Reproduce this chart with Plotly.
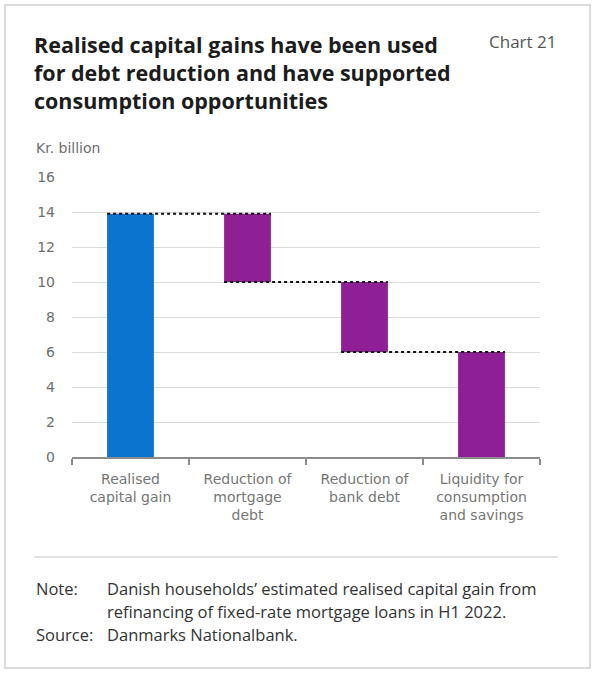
import plotly.graph_objects as go

# chart values (Kr. billion)
categories = [
    "Realised<br>capital gain",
    "Reduction of<br>mortgage<br>debt",
    "Reduction of<br>bank debt",
    "Liquidity for<br>consumption<br>and savings",
]
changes = [13.9, -3.9, -4.0, -6.0]
y_ticks = [0, 2, 4, 6, 8, 10, 12, 14, 16]

title_lines = [
    "Realised capital gains have been used",
    "for debt reduction and have supported",
    "consumption opportunities",
]
note_labels = ["Note:", "", "Source:"]
note_lines = [
    "Danish households\u2019 estimated realised capital gain from",
    "refinancing of fixed-rate mortgage loans in H1 2022.",
    "Danmarks Nationalbank.",
]

# waterfall: first bar from zero, the rest step down from running level
bases, heights, levels = [], [], []
level = 0.0
for i, c in enumerate(changes):
    if i == 0:
        bases.append(0.0)
        heights.append(c)
        level = c
    else:
        new_level = level + c
        bases.append(new_level)
        heights.append(-c)
        level = new_level
    levels.append(level)

colors = ["#0A74CE"] + ["#8E1F94"] * (len(changes) - 1)

W, H = 596, 680
L, R, T, B = 72, 56, 177, 223
PW, PH = W - L - R, H - T - B


def px_x(x):
    return (x - L) / PW


def px_y(y):
    return (H - B - y) / PH


fig = go.Figure()
fig.add_trace(go.Bar(
    x=categories,
    y=heights,
    base=bases,
    marker=dict(color=colors, line_width=0),
    width=0.4,
    showlegend=False,
    hoverinfo="skip",
))

bw = 0.4
shapes = []
# dotted connectors across the bar tops
for i in range(len(changes) - 1):
    lv = levels[i]
    shapes.append(dict(
        type="line", xref="x", yref="y",
        x0=i - bw / 2, x1=i + 1 + bw / 2, y0=lv, y1=lv,
        line=dict(color="#111111", width=2.2, dash="dot"),
        layer="above",
    ))

# outer frame and note separator
shapes.append(dict(type="rect", xref="paper", yref="paper",
                   x0=px_x(5), x1=px_x(590), y0=px_y(5), y1=px_y(668),
                   line=dict(color="#cfcfcf", width=1.5), layer="below"))
shapes.append(dict(type="line", xref="paper", yref="paper",
                   x0=px_x(34), x1=px_x(558), y0=px_y(557), y1=px_y(557),
                   line=dict(color="#c8c8c8", width=1.2)))

annos = []
annos.append(dict(
    text="<br>".join("<b>" + s + "</b>" for s in title_lines),
    xref="paper", yref="paper", x=px_x(32), y=px_y(72),
    xanchor="left", yanchor="middle", align="left", showarrow=False,
    font=dict(family="Open Sans", size=21.5, color="#1c1c1c"),
))
annos.append(dict(
    text="Chart 21", xref="paper", yref="paper", x=px_x(558), y=px_y(42),
    xanchor="right", yanchor="middle", showarrow=False,
    font=dict(family="Open Sans", size=17, color="#555555"),
))
annos.append(dict(
    text="Kr. billion", xref="paper", yref="paper", x=px_x(34), y=px_y(148),
    xanchor="left", yanchor="middle", showarrow=False,
    font=dict(family="DejaVu Sans", size=14, color="#6e6e6e"),
))
for k in range(len(note_lines)):
    if note_labels[k]:
        annos.append(dict(
            text=note_labels[k], xref="paper", yref="paper",
            x=px_x(34), y=px_y(588 + 23 * k), xanchor="left", yanchor="middle",
            showarrow=False, font=dict(family="Open Sans", size=16.5, color="#333333"),
        ))
    annos.append(dict(
        text=note_lines[k], xref="paper", yref="paper",
        x=px_x(105), y=px_y(588 + 23 * k), xanchor="left", yanchor="middle",
        showarrow=False, font=dict(family="Open Sans", size=16.5, color="#333333"),
    ))

fig.update_layout(
    width=W, height=H, autosize=False,
    margin=dict(l=L, r=R, t=T, b=B),
    paper_bgcolor="white", plot_bgcolor="white",
    font=dict(family="DejaVu Sans", size=14, color="#6b6b6b"),
    shapes=shapes, annotations=annos,
)
fig.update_xaxes(
    type="category",
    tickson="boundaries", ticks="outside", ticklen=6, tickcolor="#8c8c8c", tickwidth=1.5,
    showline=True, linecolor="#8c8c8c", linewidth=1.5,
    showgrid=False, zeroline=False,
    ticklabelstandoff=8,
    tickfont=dict(family="DejaVu Sans", size=14, color="#767676"),
    range=[-0.5, 3.5],
)
fig.update_yaxes(
    range=[0, 16], tickvals=y_ticks,
    showgrid=True, gridcolor="#dadada", gridwidth=1.2,
    zeroline=False, showline=False, ticks="",
    ticklabelstandoff=16,
    tickfont=dict(family="DejaVu Sans", size=14, color="#6e6e6e"),
)

fig.write_html("out.html", config={"displayModeBar": False},
               post_script="document.body.style.margin='0px';")
